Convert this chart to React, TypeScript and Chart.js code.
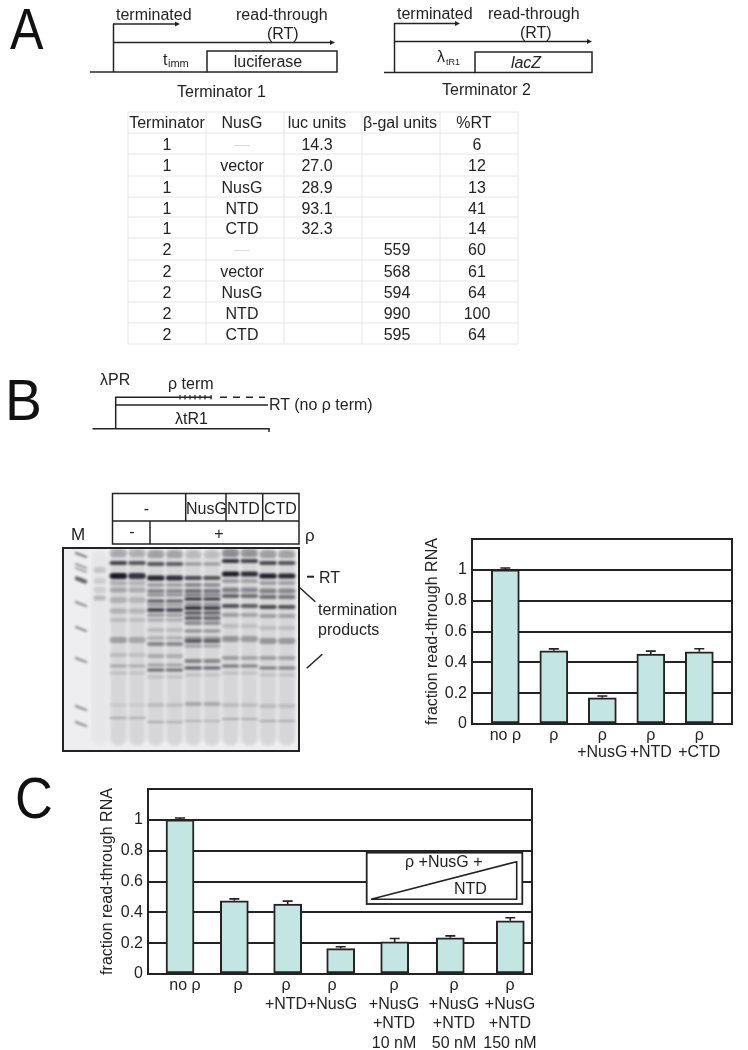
import React, { useEffect, useRef } from "react";
import { Chart, registerables } from "chart.js";

Chart.register(...registerables);

const FONT = '"Liberation Sans", Arial, sans-serif';
const INK = "#232323";
const BAR_FILL = "#c3e6e3";

// ---- Panel B bar chart
const barLabelsB = ["no ρ", "ρ", ["ρ", "+NusG"], ["ρ", "+NTD"], ["ρ", "+CTD"]];
const barValuesB = [1.0, 0.475, 0.17, 0.453, 0.468];
const barErrorsB = [0.012, 0.012, 0.012, 0.02, 0.02];
const barSlotsB = [0, 1, 2, 3, 4];
const labelSlotsB = [0, 1, 2, 3, 4];

// ---- Panel C bar chart
const barLabelsC = [
  "no ρ",
  "ρ",
  ["ρ", "+NTD"],
  ["ρ", "+NusG"],
  ["ρ", "+NusG", "+NTD", "10 nM"],
  ["ρ", "+NusG", "+NTD", "50 nM"],
  ["ρ", "+NusG", "+NTD", "150 nM"],
];
const barValuesC = [1.0, 0.475, 0.453, 0.165, 0.208, 0.235, 0.345];
const barErrorsC = [0.012, 0.012, 0.02, 0.012, 0.022, 0.012, 0.02];
const barSlotsC = [0, 1.006, 1.994, 2.976, 3.976, 5.006, 6.117];
const labelSlotsC = [0.093, 1.074, 1.963, 2.815, 3.963, 5.074, 6.111];

const yTicks = [0, 0.2, 0.4, 0.6, 0.8, 1];

// ---- Panel A table
const tableHeader = ["Terminator", "NusG", "luc units", "β-gal units", "%RT"];
const tableTerminator = ["1", "1", "1", "1", "1", "2", "2", "2", "2", "2"];
const tableNusG = ["—", "vector", "NusG", "NTD", "CTD", "—", "vector", "NusG", "NTD", "CTD"];
const tableLuc = ["14.3", "27.0", "28.9", "93.1", "32.3", "", "", "", "", ""];
const tableBgal = ["", "", "", "", "", "559", "568", "594", "990", "595"];
const tableRT = ["6", "12", "13", "41", "14", "60", "61", "64", "100", "64"];

// ---- Panel B gel: bands as [migration, darkness, thickness]
type Band = [number, number, number?];
const gelMarkers: Band[] = [[7, 0.6], [18, 0.42], [22, 0.36], [32, 0.8, 4], [56, 0.5], [81, 0.5], [112, 0.5], [160, 0.5], [176, 0.5]];
const gelBlank: Band[] = [[22, 0.16, 6], [33, 0.12, 6], [42, 0.12, 6], [50, 0.22, 5]];
const gelNoRho: Band[] = [[5, 0.25, 8], [15, 0.78, 4], [28, 1, 6], [35, 0.2, 5], [42, 0.25, 5], [52, 0.2, 6], [63, 0.2, 5], [72, 0.15, 4], [92, 0.3, 6], [107, 0.15, 4], [118, 0.25, 3], [125, 0.15], [157, 0.1], [170, 0.25, 2]];
const gelRho: Band[] = [[6, 0.3, 8], [16, 0.7, 4], [30, 1, 5], [37, 0.3, 4], [43, 0.45, 4], [47, 0.4, 3], [53, 0.7, 3], [57, 0.35, 3], [62, 0.8, 4], [67, 0.35, 3], [72, 0.25, 3], [82, 0.2, 3], [90, 0.25, 3], [96, 0.45, 4], [108, 0.25, 4], [117, 0.3, 3], [122, 0.6, 3], [129, 0.15], [157, 0.15, 4], [174, 0.25, 2]];
const gelNusG: Band[] = [[6, 0.15, 8], [16, 0.35, 3], [30, 0.75, 4], [37, 0.4, 4], [43, 0.55, 4], [47, 0.5, 3], [51, 0.9, 3], [56, 0.4, 3], [60, 0.85, 4], [65, 0.6, 4], [70, 0.6, 4], [75, 0.4, 4], [83, 0.4, 3], [90, 0.35, 3], [93, 0.65, 4], [98, 0.3, 3], [113, 0.45, 4], [120, 0.65, 3], [127, 0.15], [156, 0.25, 4], [173, 0.2, 2]];
const gelNTD: Band[] = [[5, 0.4, 8], [13, 0.85, 4], [26, 1, 5], [33, 0.3, 4], [42, 0.45, 5], [48, 0.6, 4], [58, 0.7, 4], [67, 0.3, 4], [78, 0.15, 4], [91, 0.35, 6], [110, 0.3, 4], [118, 0.5, 3], [125, 0.15], [157, 0.15, 4], [171, 0.25, 2]];
const gelCTD: Band[] = [[6, 0.3, 8], [15, 0.75, 4], [28, 1, 5], [35, 0.3, 4], [43, 0.45, 5], [49, 0.55, 4], [59, 0.75, 4], [68, 0.3, 4], [80, 0.15, 4], [93, 0.35, 6], [110, 0.3, 4], [120, 0.5, 3], [127, 0.15], [158, 0.15, 4], [173, 0.25, 2]];
const gelLanes = [2, 3, 4, 5, 6, 7, 8, 9, 10, 11];
const gelLaneGroups = [gelNoRho, gelNoRho, gelRho, gelRho, gelNusG, gelNusG, gelNTD, gelNTD, gelCTD, gelCTD];
const gelLaneGain = [1, 0.86, 0.95, 0.9, 1, 0.92, 1, 0.9, 0.98, 0.92];

const spriteCache = new Map<string, HTMLCanvasElement>();
function sprite(w: number, t: number, d: number, slant: number, blur: number) {
  const key = [w, t, d.toFixed(3), slant, blur].join("|");
  const hit = spriteCache.get(key);
  if (hit) return hit;
  const c = document.createElement("canvas");
  c.width = Math.ceil(w + 12);
  c.height = Math.ceil(t + slant + 12);
  const ctx = c.getContext("2d")!;
  ctx.filter = `blur(${blur}px)`;
  ctx.fillStyle = `rgba(28,28,34,${d})`;
  ctx.translate(c.width / 2, c.height / 2);
  ctx.rotate(Math.atan2(slant, w));
  ctx.beginPath();
  ctx.roundRect(-w / 2, -t / 2, w, t, t / 2);
  ctx.fill();
  spriteCache.set(key, c);
  return c;
}

const framePlugin = {
  id: "frame",
  afterDatasetsDraw(chart: any) {
    const { ctx, chartArea: a } = chart;
    ctx.save();
    ctx.strokeStyle = INK;
    ctx.lineWidth = 2;
    ctx.strokeRect(a.left, a.top, a.right - a.left, a.bottom - a.top);
    ctx.restore();
  },
};

const errorBarPlugin = {
  id: "errorBars",
  afterDatasetsDraw(chart: any, _args: any, opts: any) {
    const errs: number[] = opts.values || [];
    const { ctx, scales } = chart;
    const meta = chart.getDatasetMeta(0);
    ctx.save();
    ctx.strokeStyle = INK;
    ctx.lineWidth = 1.6;
    meta.data.forEach((bar: any, i: number) => {
      const v = chart.data.datasets[0].data[i].y;
      const y0 = scales.y.getPixelForValue(v);
      const y1 = scales.y.getPixelForValue(v + errs[i]);
      ctx.beginPath();
      ctx.moveTo(bar.x, y0);
      ctx.lineTo(bar.x, y1);
      ctx.moveTo(bar.x - 5, y1);
      ctx.lineTo(bar.x + 5, y1);
      ctx.stroke();
    });
    ctx.restore();
  },
};

function barConfig(
  labels: any[],
  values: number[],
  errors: number[],
  slots: number[],
  labelSlots: number[],
  cfg: { xMin: number; xMax: number; yWidth: number; xHeight: number; padRight: number; padTop: number; lineHeight: number; tickPad: number }
): any {
  return {
    type: "bar",
    data: {
      datasets: [
        {
          data: slots.map((x, i) => ({ x, y: values[i] })),
          backgroundColor: BAR_FILL,
          borderColor: INK,
          borderWidth: 2,
          borderSkipped: false,
          barThickness: 28,
        },
      ],
    },
    plugins: [framePlugin, errorBarPlugin],
    options: {
      responsive: false,
      animation: false,
      devicePixelRatio: 1,
      layout: { autoPadding: false, padding: { left: 0, top: cfg.padTop, right: cfg.padRight, bottom: 0 } },
      plugins: {
        legend: { display: false },
        tooltip: { enabled: false },
        errorBars: { values: errors },
      },
      scales: {
        x: {
          type: "linear",
          offset: false,
          bounds: "data",
          min: cfg.xMin,
          max: cfg.xMax,
          grid: { display: false, drawTicks: false, offset: false },
          border: { display: false },
          afterBuildTicks: (axis: any) => {
            axis.ticks = labelSlots.map((value) => ({ value }));
          },
          afterFit: (axis: any) => {
            axis.height = cfg.xHeight;
            axis.paddingLeft = 0;
            axis.paddingRight = 0;
          },
          ticks: {
            autoSkip: false,
            maxRotation: 0,
            minRotation: 0,
            padding: cfg.tickPad,
            color: INK,
            font: { family: FONT, size: 16, lineHeight: cfg.lineHeight },
            callback: (_v: any, i: number) => labels[i],
          },
        },
        y: {
          min: 0,
          max: 1.2,
          afterBuildTicks: (axis: any) => {
            axis.ticks = [...yTicks, 1.2].map((value) => ({ value }));
          },
          afterFit: (axis: any) => {
            axis.width = cfg.yWidth;
            axis.paddingTop = 0;
            axis.paddingBottom = 0;
          },
          grid: { color: INK, lineWidth: 2, drawTicks: false },
          border: { display: false },
          title: {
            display: true,
            text: "fraction read-through RNA",
            color: INK,
            padding: { top: 1, bottom: 0 },
            font: { family: FONT, size: 16 },
          },
          ticks: {
            padding: 5,
            color: INK,
            font: { family: FONT, size: 16 },
            callback: (v: number) => (v > 1.1 ? "" : String(v)),
          },
        },
      },
    },
  };
}

function gelConfig(): any {
  const point = (x: number, b: Band, w: number, slant: number, gain: number) => ({
    x,
    y: b[0],
    s: sprite(w, b[2] ?? 2.5, Math.min(1, b[1] * gain), slant, 1.3),
  });
  const laneBack = [...[1], ...gelLanes].map((x) => ({
    x,
    y: 100,
    s: sprite(16.5, 196, x === 1 ? 0.035 : 0.11, 0, 1.5),
  }));
  const laneBands = gelLanes.flatMap((x, i) => gelLaneGroups[i].map((b) => point(x, b, 17.5, 0, gelLaneGain[i])));
  const markerBands = gelMarkers.map((b) => point(0, b, 13, 5, 0.85));
  const blankBands = gelBlank.map((b) => point(1, b, 12, 0, 1));
  const ds = (data: any[]) => ({
    data,
    showLine: false,
    pointRadius: 8,
    pointBorderWidth: 0,
    pointStyle: (c: any) => c.raw?.s ?? "circle",
  });
  return {
    type: "scatter",
    data: { datasets: [ds(laneBack), ds(laneBands), ds(markerBands), ds(blankBands)] },
    plugins: [
      {
        id: "gelBack",
        beforeDraw(chart: any) {
          const { ctx, chartArea: a } = chart;
          ctx.save();
          ctx.fillStyle = "#eeeef0";
          ctx.fillRect(a.left, a.top, a.right - a.left, a.bottom - a.top);
          ctx.restore();
        },
      },
      framePlugin,
    ],
    options: {
      responsive: false,
      animation: false,
      devicePixelRatio: 1,
      layout: { autoPadding: false, padding: 2 },
      plugins: { legend: { display: false }, tooltip: { enabled: false } },
      scales: {
        x: { type: "linear", display: false, min: -0.96, max: 11.66 },
        y: { type: "linear", display: false, min: 0, max: 203, reverse: true },
      },
    },
  };
}

function ChartCanvas({ config, left, top, width, height }: any) {
  const ref = useRef<HTMLCanvasElement | null>(null);
  useEffect(() => {
    const chart = new Chart(ref.current!, config());
    return () => chart.destroy();
  }, []);
  return (
    <canvas
      ref={ref}
      width={width}
      height={height}
      style={{ position: "absolute", left, top, width, height, display: "block" }}
    />
  );
}

const T = ({ x, y, size = 16, anchor = "start", fill = INK, italic = false, children }: any) => (
  <text x={x} y={y} fontSize={size} textAnchor={anchor} fill={fill} fontStyle={italic ? "italic" : "normal"} fontFamily={FONT}>
    {children}
  </text>
);

const Letter = ({ x, y, sx = 0.88, children }: any) => (
  <text transform={`translate(${x},${y}) scale(${sx},1)`} fontSize={57} fill="#111111" fontFamily={FONT}>
    {children}
  </text>
);

const L = ({ x1, y1, x2, y2, w = 1.5, dash }: any) => (
  <line x1={x1} y1={y1} x2={x2} y2={y2} stroke={INK} strokeWidth={w} strokeDasharray={dash} />
);

const Arrow = ({ x1, x2, y }: any) => (
  <>
    <L x1={x1} y1={y} x2={x2 - 3} y2={y} />
    <polygon points={`${x2},${y} ${x2 - 5},${y - 2.5} ${x2 - 5},${y + 2.5}`} fill={INK} />
  </>
);

const tableRowLines = [112, 133, 154, 176, 197, 217, 238, 260, 281, 302, 323, 344];
const tableColLines = [128, 206, 284, 362, 440, 518];

function Table() {
  const colCentres = [167, 242, 317, 397, 477];
  const headCentres = [167, 242, 317, 400, 474];
  const cols = [tableTerminator, tableNusG, tableLuc, tableBgal, tableRT];
  return (
    <g>
      {tableRowLines.map((y) => (
        <line key={y} x1={128} x2={518} y1={y} y2={y} stroke="#e6e6e6" strokeWidth={1} />
      ))}
      {tableColLines.map((x) => (
        <line key={x} x1={x} x2={x} y1={112} y2={344} stroke="#e6e6e6" strokeWidth={1} />
      ))}
      {tableHeader.map((h, i) => (
        <T key={h} x={headCentres[i]} y={128} anchor="middle">{h}</T>
      ))}
      {cols.map((col, c) =>
        col.map((v, r) => (
          <T key={c + "-" + r} x={colCentres[c]} y={tableRowLines[r + 1] + 17} anchor="middle" fill={v === "—" ? "#dddddd" : INK}>
            {v}
          </T>
        ))
      )}
    </g>
  );
}

function Overlay() {
  return (
    <svg width={748} height={1050} style={{ position: "absolute", left: 0, top: 0, pointerEvents: "none" }}>
      {/* Panel letters */}
      <Letter x={10} y={49}>A</Letter>
      <Letter x={5} y={420} sx={0.97}>B</Letter>
      <Letter x={15} y={818} sx={0.92}>C</Letter>

      {/* Terminator 1 */}
      <T x={116} y={20}>terminated</T>
      <T x={236} y={20}>read-through</T>
      <T x={267} y={39}>(RT)</T>
      <L x1={113.5} y1={72} x2={113.5} y2={24} />
      <Arrow x1={113} x2={180} y={24} />
      <Arrow x1={113} x2={335} y={42.5} />
      <L x1={90} y1={72} x2={207} y2={72} />
      <rect x={207} y={51} width={130} height={21} fill="none" stroke={INK} strokeWidth={1.5} />
      <T x={163} y={65}>t</T>
      <T x={168} y={67} size={11}>imm</T>
      <T x={268} y={67} anchor="middle">luciferase</T>
      <T x={177} y={97}>Terminator 1</T>

      {/* Terminator 2 */}
      <T x={397} y={19}>terminated</T>
      <T x={488} y={19}>read-through</T>
      <T x={520} y={38}>(RT)</T>
      <L x1={394.5} y1={72} x2={394.5} y2={23} />
      <Arrow x1={394} x2={460} y={23.5} />
      <Arrow x1={394} x2={592} y={41.5} />
      <L x1={384} y1={72.5} x2={475} y2={72.5} />
      <rect x={475} y={52} width={117} height={20.5} fill="none" stroke={INK} strokeWidth={1.5} />
      <T x={437} y={62}>λ</T>
      <T x={446} y={65} size={9}>tR1</T>
      <T x={526} y={68} anchor="middle" italic>lacZ</T>
      <T x={442} y={95}>Terminator 2</T>

      <Table />

      {/* Panel B scheme */}
      <T x={100} y={385}>λPR</T>
      <T x={168} y={389}>ρ term</T>
      <L x1={115.7} y1={429} x2={115.7} y2={397} />
      <L x1={115} y1={397.3} x2={212} y2={397.3} />
      {[180, 185, 190, 195, 200, 205, 211].map((x) => (
        <L key={x} x1={x} y1={395} x2={x} y2={399.5} w={1.2} />
      ))}
      <L x1={220} y1={397.3} x2={265} y2={397.3} dash="7 6" />
      <L x1={115} y1={405} x2={268} y2={405} />
      <T x={269} y={410}>RT (no ρ term)</T>
      <T x={175} y={424}>λtR1</T>
      <L x1={92.5} y1={428.7} x2={269.5} y2={428.7} />
      <L x1={269} y1={428} x2={269} y2={432} />

      {/* Gel header */}
      <rect x={112.5} y={493.5} width={186.5} height={50.5} fill="none" stroke={INK} strokeWidth={1.5} />
      <L x1={112} y1={521} x2={299} y2={521} />
      <L x1={185.7} y1={493} x2={185.7} y2={521} />
      <L x1={226} y1={493} x2={226} y2={521} />
      <L x1={262.7} y1={493} x2={262.7} y2={521} />
      <L x1={150} y1={521} x2={150} y2={544} />
      <T x={146.5} y={514} anchor="middle">-</T>
      <T x={186} y={514}>NusG</T>
      <T x={227} y={514}>NTD</T>
      <T x={264} y={514}>CTD</T>
      <T x={132} y={537} anchor="middle">-</T>
      <T x={219} y={539} anchor="middle">+</T>
      <T x={71} y={540} size={17}>M</T>
      <T x={305} y={541} size={17}>ρ</T>

      {/* Gel annotations */}
      <L x1={307} y1={576.7} x2={314} y2={576.7} w={2} />
      <T x={319} y={582.5}>RT</T>
      <L x1={298.7} y1={586.7} x2={315.3} y2={601.7} />
      <T x={318} y={615}>termination</T>
      <T x={318} y={635}>products</T>
      <L x1={306.7} y1={668.3} x2={322.3} y2={654.3} />

      {/* Panel C inset */}
      <rect x={366.7} y={852.7} width={155.6} height={51.3} fill="#ffffff" stroke={INK} strokeWidth={1.8} />
      <polygon points="371,899.3 516.7,861.7 516.7,899.3" fill="#ffffff" stroke={INK} strokeWidth={1.6} />
      <T x={405} y={867}>ρ +NusG +</T>
      <T x={454} y={894}>NTD</T>
    </svg>
  );
}

export default function App() {
  return (
    <div style={{ position: "absolute", left: 0, top: 0, width: 748, height: 1050, background: "#ffffff", overflow: "hidden" }}>
      <ChartCanvas config={gelConfig} left={61} top={546} width={240} height={207} />
      <ChartCanvas
        left={422}
        top={530}
        width={318}
        height={250}
        config={() =>
          barConfig(barLabelsB, barValuesB, barErrorsB, barSlotsB, labelSlotsB, {
            xMin: -0.687,
            xMax: 4.674,
            yWidth: 50,
            xHeight: 56,
            padRight: 8,
            padTop: 9,
            lineHeight: 1.06,
            tickPad: 3,
          })
        }
      />
      <ChartCanvas
        left={97}
        top={780}
        width={443}
        height={270}
        config={() =>
          barConfig(barLabelsC, barValuesC, barErrorsC, barSlotsC, labelSlotsC, {
            xMin: -0.593,
            xMax: 6.519,
            yWidth: 51,
            xHeight: 76,
            padRight: 8,
            padTop: 9,
            lineHeight: 1.2,
            tickPad: 2,
          })
        }
      />
      <Overlay />
    </div>
  );
}
